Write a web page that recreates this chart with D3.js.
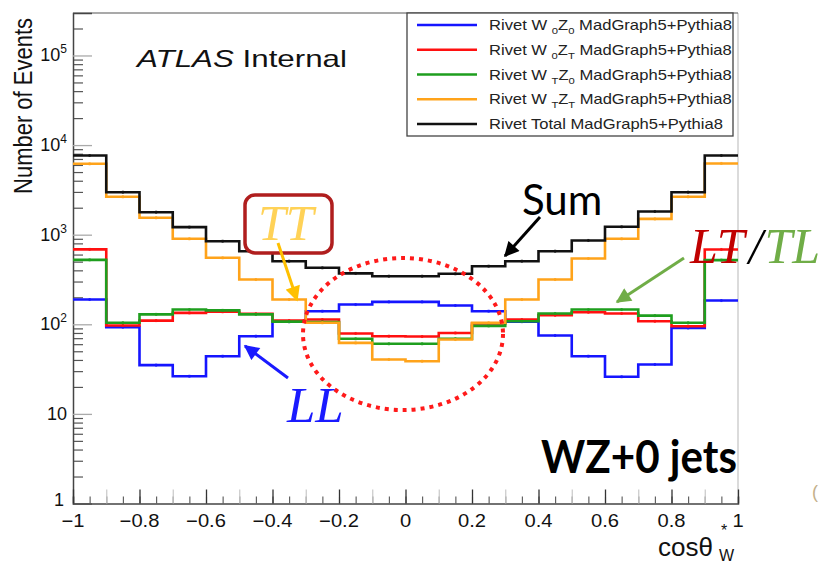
<!DOCTYPE html>
<html><head><meta charset="utf-8">
<script src="https://cdn.jsdelivr.net/npm/d3@7"></script>
<style>body{margin:0;background:#fff}svg{display:block}</style>
</head><body>
<script>
// ---- data ----
const binEdges = [-1,-0.9,-0.8,-0.7,-0.6,-0.5,-0.4,-0.3,-0.2,-0.1,0,0.1,0.2,0.3,0.4,0.5,0.6,0.7,0.8,0.9,1];
const seriesNames = ["W0Z0","W0ZT","WTZ0","WTZT","Total"];
const w0z0  = [189, 93, 35, 26.3, 44, 73.6, 107, 140, 166, 178, 178, 162, 140, 107, 75, 44, 26, 35.6, 91, 184];
const w0zT  = [685, 97, 110, 134, 138, 131, 110, 113, 79, 73.6, 73, 80, 102, 113, 126, 136, 132, 108, 95, 684];
const wTz0  = [524, 104, 129, 146, 143, 129, 107, 106, 69, 60.6, 60.6, 69, 96, 108, 132, 146, 146, 125, 104, 520];
const wTzT  = [6180, 2650, 1545, 900, 552, 316, 189, 104, 62, 40.5, 38.7, 67.6, 104, 189, 316, 542, 900, 1500, 2650, 6240];
const total = [7650, 2980, 1783, 1213, 845, 654, 506, 427, 370, 344, 344, 366, 445, 506, 654, 862, 1225, 1815, 2980, 7650];
const xTickValues = [-1,-0.8,-0.6,-0.4,-0.2,0,0.2,0.4,0.6,0.8,1];
const xTickLabels = ["\u22121","\u22120.8","\u22120.6","\u22120.4","\u22120.2","0","0.2","0.4","0.6","0.8","1"];
const yTickValues = [1,10,100,1000,10000,100000];
const yTickBase = ["1","10","10","10","10","10"];
const yTickExp  = ["","","2","3","4","5"];
const legendLabels = [
  ["Rivet W ","0","Z","0"," MadGraph5+Pythia8"],
  ["Rivet W ","0","Z","T"," MadGraph5+Pythia8"],
  ["Rivet W ","T","Z","0"," MadGraph5+Pythia8"],
  ["Rivet W ","T","Z","T"," MadGraph5+Pythia8"],
  ["Rivet Total MadGraph5+Pythia8"]
];
const colors = ["#1515ff","#ff1010","#1e9e1e","#ffa31a","#111111"];

// ---- setup ----
const W = 825, H = 565;
const svg = d3.select("body").append("svg").attr("width", W).attr("height", H)
  .style("font-family","'Liberation Sans', Arial, sans-serif");
const x = d3.scaleLinear().domain([-1, 1]).range([73, 738]);
const y = d3.scaleLog().domain([1, Math.pow(10, 5.474)]).range([503.5, 13]);

function fitWidth(textSel, x0, yb, target){
  const w = textSel.node().getComputedTextLength();
  textSel.attr("x",0).attr("y",0).attr("transform",`translate(${x0},${yb}) scale(${target/w},1)`);
}

// frame
svg.append("line").attr("x1",x(1)).attr("x2",x(1)).attr("y1",y.range()[1]).attr("y2",y.range()[0])
  .attr("stroke","#cfcfcf").attr("stroke-width",1.5);
svg.append("line").attr("x1",x(-1)).attr("x2",x(1)).attr("y1",13).attr("y2",13)
  .attr("stroke","#555").attr("stroke-width",1.2);

// y axis ticks (inside)
const minorY = [];
for (let d = 0; d < 5; d++) for (let m = 2; m <= 9; m++) minorY.push(m*Math.pow(10,d));
minorY.push(2e5, 3e5);
svg.append("g").attr("transform",`translate(${x(-1)},0)`)
  .call(d3.axisLeft(y).tickValues(minorY.filter(v=>v<y.domain()[1])).tickSize(-10).tickFormat(""))
  .call(g=>{g.select(".domain").remove(); g.selectAll("line").attr("stroke","#555").attr("stroke-width",1.2);});
svg.append("g").attr("transform",`translate(${x(-1)},0)`)
  .call(d3.axisLeft(y).tickValues(yTickValues).tickSize(-19).tickFormat(""))
  .call(g=>{g.select(".domain").attr("stroke","#444").attr("stroke-width",1.5); g.selectAll("line").attr("stroke","#aaa").attr("stroke-width",1.3);});

// x axis ticks (inside)
const xMinor = d3.range(-20, 21).map(i => i*0.05);
svg.append("g").attr("transform",`translate(0,${y(1)})`)
  .call(d3.axisBottom(x).tickValues(xMinor).tickSize(-7).tickFormat(""))
  .call(g=>{g.select(".domain").attr("stroke","#444").attr("stroke-width",1.5); g.selectAll("line").attr("stroke","#555").attr("stroke-width",1.1);});
svg.append("g").attr("transform",`translate(0,${y(1)})`)
  .call(d3.axisBottom(x).tickValues(d3.range(-9,10,2).map(i=>i*0.1)).tickSize(-14).tickFormat(""))
  .call(g=>{g.select(".domain").remove(); g.selectAll("line").attr("stroke","#c8c8c8").attr("stroke-width",1.2);});
svg.append("g").attr("transform",`translate(0,${y(1)})`)
  .call(d3.axisBottom(x).tickValues(xTickValues).tickSize(-14).tickFormat(""))
  .call(g=>{g.select(".domain").remove(); g.selectAll("line").attr("stroke","#333").attr("stroke-width",1.3);});

// x tick labels
xTickValues.forEach((v,i)=>{
  svg.append("text").attr("text-anchor","middle").attr("font-size",18).attr("fill","#111")
    .attr("transform",`translate(${x(v)},527) scale(1.12,1)`).text(xTickLabels[i]);
});
// y tick labels
yTickValues.forEach((v,i)=>{
  const t = svg.append("text").attr("text-anchor","end").attr("font-size",18).attr("fill","#111")
    .attr("x", i===0 ? 64 : 67).attr("y", y(v) + (i===0 ? 2 : 6));
  t.append("tspan").text(yTickBase[i]);
  if (yTickExp[i]) t.append("tspan").attr("font-size",12).attr("dy",-8).text(yTickExp[i]);
});

// axis titles
svg.append("text").attr("font-size",22).attr("text-anchor","end").attr("fill","#111")
  .attr("transform","translate(32,18) rotate(-90) scale(1,1.15)").text("Number of Events");
svg.append("text").attr("x",658).attr("y",556).attr("font-size",26).attr("fill","#111").text("cos\u03b8");
svg.append("text").attr("x",719).attr("y",561).attr("font-size",16).attr("fill","#111").text("W");
svg.append("text").attr("x",721).attr("y",536).attr("font-size",16).attr("fill","#111").text("*");

// histograms
const all = [w0z0, w0zT, wTz0, wTzT, total];
const line = d3.line().x(d=>x(d[0])).y(d=>y(d[1])).curve(d3.curveStepAfter);
all.forEach((vals, si)=>{
  const pts = vals.map((v,i)=>[binEdges[i], v]);
  pts.push([binEdges[binEdges.length-1], vals[vals.length-1]]);
  svg.append("path").attr("d", line(pts)).attr("fill","none")
    .attr("stroke", colors[si]).attr("stroke-width", 2.6).attr("stroke-linejoin","miter");
  svg.append("g").selectAll("rect").data(vals).join("rect")
    .attr("x",(d,i)=>x((binEdges[i]+binEdges[i+1])/2)-1).attr("y",d=>y(d)-1.5)
    .attr("width",2).attr("height",3).attr("fill",colors[si]).attr("opacity",0.8);
});

// ATLAS Internal
const atl = svg.append("text").attr("font-size",23).attr("fill","#111");
atl.append("tspan").attr("font-style","italic").text("ATLAS");
atl.append("tspan").text(" Internal");
fitWidth(atl, 137, 67, 210);

// legend
svg.append("rect").attr("x",407).attr("y",13).attr("width",326).attr("height",123)
  .attr("fill","#fff").attr("stroke","#444").attr("stroke-width",1.3);
legendLabels.forEach((parts, i)=>{
  const ly = 25 + i*24.75;
  svg.append("line").attr("x1",417).attr("x2",477).attr("y1",ly).attr("y2",ly)
    .attr("stroke",colors[i]).attr("stroke-width",2.6);
  const t = svg.append("text").attr("font-size",14).attr("fill","#222");
  if (parts.length === 1) t.append("tspan").text(parts[0]);
  else {
    t.append("tspan").text(parts[0]);
    t.append("tspan").attr("font-size",9.5).attr("dy",4).text(parts[1]);
    t.append("tspan").attr("dy",-4).text(parts[2]);
    t.append("tspan").attr("font-size",9.5).attr("dy",4).text(parts[3]);
    t.append("tspan").attr("dy",-4).text(parts[4]);
  }
  fitWidth(t, 489, ly+5, parts.length===1 ? 234 : 243);
});

// arrows
const defs = svg.append("defs");
function arrow(x1,y1,x2,y2,color,id){
  defs.append("marker").attr("id",id).attr("viewBox","0 0 10 10").attr("refX",9).attr("refY",5)
    .attr("markerUnits","userSpaceOnUse").attr("markerWidth",17).attr("markerHeight",15).attr("orient","auto")
    .append("path").attr("d","M0,0 L10,5 L0,10 Z").attr("fill",color);
  svg.append("line").attr("x1",x1).attr("y1",y1).attr("x2",x2).attr("y2",y2)
    .attr("stroke",color).attr("stroke-width",3).attr("marker-end",`url(#${id})`);
}
// dotted ellipse
svg.append("ellipse").attr("cx",403).attr("cy",334).attr("rx",100).attr("ry",76)
  .attr("fill","none").attr("stroke","#ff1a1a").attr("stroke-width",4).attr("stroke-dasharray","4,5");

// TT box
svg.append("rect").attr("x",245).attr("y",195).attr("width",87).attr("height",58).attr("rx",10)
  .attr("fill","#fff").attr("stroke","#b01e1e").attr("stroke-width",3.5);
svg.append("text").attr("x",258).attr("y",240).attr("font-family","'Liberation Serif', serif")
  .attr("font-style","italic").attr("font-size",50).attr("fill","#ffd257").text("TT");
arrow(278,243,297,300,"#ffc000","aTT");

svg.append("text").attr("x",287).attr("y",422).attr("font-family","'Liberation Serif', serif")
  .attr("font-style","italic").attr("font-size",51).attr("fill","#1a1aff").text("LL");
arrow(288,378,245,346,"#1a1aff","aLL");

svg.append("text").attr("x",522).attr("y",215).attr("font-family","Lato, sans-serif")
  .attr("font-size",42).attr("fill","#000").text("Sum");
arrow(540,217,505,256,"#000","aSum");

const lt = svg.append("text").attr("x",690).attr("y",263).attr("font-family","'Liberation Serif', serif")
  .attr("font-style","italic").attr("font-size",50);
lt.append("tspan").attr("fill","#c00000").text("LT");
lt.append("tspan").attr("fill","#000").attr("dx",4).text("/");
lt.append("tspan").attr("fill","#70ad47").attr("dx",2).text("TL");
arrow(684,258,617,302,"#70ad47","aLT");

const wz = svg.append("text").attr("font-family","Lato, sans-serif").attr("font-weight","bold")
  .attr("font-size",45).attr("fill","#000").text("WZ+0 jets");
fitWidth(wz, 541, 473, 196);

svg.append("text").attr("x",812).attr("y",498).attr("font-size",18).attr("fill","#c4b08a").text("(");
</script>
</body></html>
